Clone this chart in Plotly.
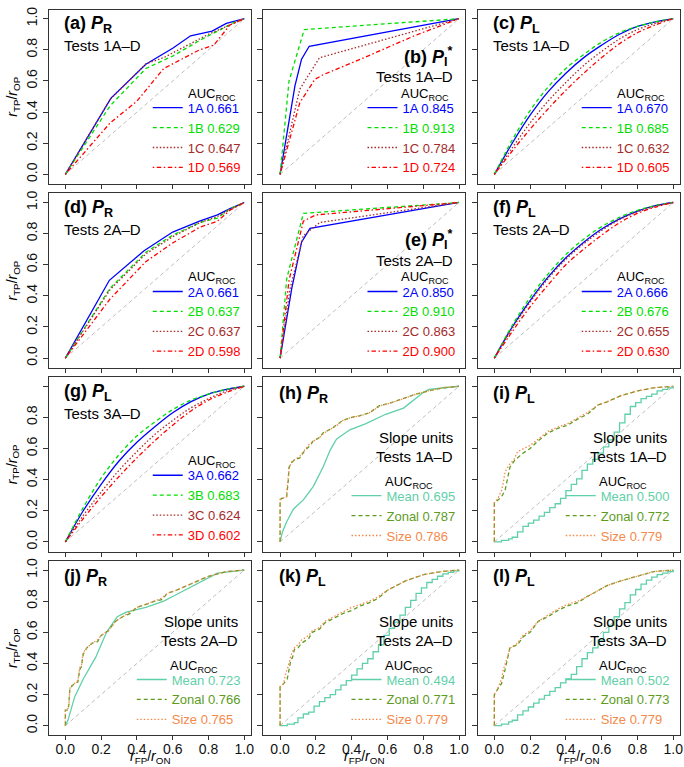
import plotly.graph_objects as go

FONT = "Liberation Sans, Arial, Helvetica, sans-serif"
W, H = 684, 767

# ---------------- colours ----------------
COL_A = "#0000FF"
COL_B = "#00E000"
COL_C = "#A52A2A"
COL_D = "#FF0000"
COL_MEAN = "#5FD0A8"
COL_ZONAL = "#5E9C1E"
COL_SIZE = "#F5894A"

# ---------------- data ----------------
DIAG = [0.0, 1.0]
GRID_X = [0.0, 0.1, 0.2, 0.3, 0.4, 0.5, 0.6, 0.7, 0.8, 0.9, 1.0]
MEAN_X = [0, 0.04, 0.08, 0.10, 0.13, 0.16, 0.19, 0.22, 0.25, 0.28, 0.31, 0.34, 0.37, 0.40,
          0.43, 0.46, 0.49, 0.52, 0.55, 0.58, 0.61, 0.64, 0.67, 0.70, 0.73, 0.76, 0.79,
          0.82, 0.85, 0.88, 0.91, 0.94, 0.97, 1.0]

# (a) P_R, Tests 1A-D
a_1A_x = [0, 0.255, 0.45, 0.60, 0.70, 0.82, 0.90, 1.0]
a_1A_y = [0, 0.49, 0.707, 0.81, 0.89, 0.92, 0.97, 1.0]
a_1B_x = [0, 0.25, 0.45, 0.60, 0.75, 0.85, 0.95, 1.0]
a_1B_y = [0, 0.44, 0.68, 0.76, 0.86, 0.92, 0.98, 1.0]
a_1C_x = [0, 0.25, 0.45, 0.55, 0.65, 0.80, 0.90, 1.0]
a_1C_y = [0, 0.48, 0.71, 0.75, 0.81, 0.90, 0.95, 1.0]
a_1D_x = [0, 0.25, 0.40, 0.55, 0.75, 0.83, 0.92, 1.0]
a_1D_y = [0, 0.33, 0.47, 0.68, 0.80, 0.83, 0.96, 1.0]
AUC_a = [0.661, 0.629, 0.647, 0.569]

# (b) P_I*, Tests 1A-D
b_1A_x = [0, 0.083, 0.12, 0.163, 1.0]
b_1A_y = [0, 0.568, 0.74, 0.823, 1.0]
b_1B_x = [0, 0.05, 0.135, 1.0]
b_1B_y = [0, 0.60, 0.93, 1.0]
b_1C_x = [0, 0.11, 0.22, 1.0]
b_1C_y = [0, 0.547, 0.749, 1.0]
b_1D_x = [0, 0.11, 0.194, 0.24, 0.45, 0.75, 1.0]
b_1D_y = [0, 0.46, 0.61, 0.64, 0.74, 0.89, 1.0]
AUC_b = [0.845, 0.913, 0.784, 0.724]

# (c) P_L, Tests 1A-D
c_1A_y = [0, 0.20, 0.38, 0.53, 0.65, 0.75, 0.83, 0.90, 0.95, 0.98, 1.0]
c_1B_y = [0, 0.22, 0.41, 0.56, 0.68, 0.77, 0.85, 0.91, 0.95, 0.98, 1.0]
c_1C_y = [0, 0.17, 0.33, 0.47, 0.59, 0.70, 0.79, 0.87, 0.93, 0.97, 1.0]
c_1D_y = [0, 0.15, 0.29, 0.42, 0.54, 0.65, 0.75, 0.84, 0.91, 0.96, 1.0]
AUC_c = [0.670, 0.685, 0.632, 0.605]

# (d) P_R, Tests 2A-D
d_2A_x = [0, 0.246, 0.44, 0.60, 0.75, 0.85, 0.92, 1.0]
d_2A_y = [0, 0.50, 0.69, 0.81, 0.88, 0.92, 0.96, 1.0]
d_2B_x = [0, 0.25, 0.45, 0.60, 0.75, 0.85, 0.92, 1.0]
d_2B_y = [0, 0.45, 0.68, 0.79, 0.87, 0.90, 0.96, 1.0]
d_2C_x = [0, 0.25, 0.45, 0.60, 0.75, 0.85, 0.93, 1.0]
d_2C_y = [0, 0.44, 0.67, 0.78, 0.87, 0.91, 0.96, 1.0]
d_2D_x = [0, 0.25, 0.45, 0.60, 0.75, 0.85, 0.92, 1.0]
d_2D_y = [0, 0.38, 0.62, 0.74, 0.84, 0.88, 0.95, 1.0]
AUC_d = [0.661, 0.637, 0.637, 0.598]

# (e) P_I*, Tests 2A-D
e_2A_x = [0, 0.065, 0.12, 0.167, 1.0]
e_2A_y = [0, 0.447, 0.745, 0.834, 1.0]
e_2B_x = [0, 0.037, 0.13, 1.0]
e_2B_y = [0, 0.51, 0.93, 1.0]
e_2C_x = [0, 0.056, 0.13, 0.222, 1.0]
e_2C_y = [0, 0.447, 0.787, 0.872, 1.0]
e_2D_x = [0, 0.05, 0.13, 0.20, 1.0]
e_2D_y = [0, 0.50, 0.88, 0.92, 1.0]
AUC_e = [0.850, 0.910, 0.863, 0.900]

# (f) P_L, Tests 2A-D
f_2A_y = [0, 0.20, 0.37, 0.52, 0.645, 0.745, 0.83, 0.895, 0.945, 0.98, 1.0]
f_2B_y = [0, 0.21, 0.39, 0.54, 0.665, 0.765, 0.845, 0.905, 0.95, 0.98, 1.0]
f_2C_y = [0, 0.19, 0.36, 0.51, 0.635, 0.735, 0.82, 0.89, 0.94, 0.975, 1.0]
f_2D_y = [0, 0.17, 0.33, 0.47, 0.60, 0.70, 0.79, 0.87, 0.93, 0.97, 1.0]
AUC_f = [0.666, 0.676, 0.655, 0.630]

# (g) P_L, Tests 3A-D
g_3A_y = [0, 0.20, 0.37, 0.52, 0.64, 0.74, 0.83, 0.90, 0.95, 0.98, 1.0]
g_3B_y = [0, 0.22, 0.41, 0.56, 0.68, 0.77, 0.85, 0.91, 0.95, 0.98, 1.0]
g_3C_y = [0, 0.17, 0.32, 0.46, 0.58, 0.69, 0.78, 0.86, 0.92, 0.97, 1.0]
g_3D_y = [0, 0.15, 0.29, 0.42, 0.54, 0.65, 0.75, 0.84, 0.91, 0.96, 1.0]
AUC_g = [0.662, 0.683, 0.624, 0.602]

# (h) P_R, slope units, Tests 1A-D
h_mean_x = [0, 0.012, 0.037, 0.074, 0.13, 0.185, 0.24, 0.28, 0.315, 0.39, 0.48, 0.59, 0.69, 0.80, 0.83, 1.0]
h_mean_y = [0, 0.06, 0.13, 0.21, 0.27, 0.355, 0.48, 0.59, 0.66, 0.72, 0.76, 0.82, 0.86, 0.96, 0.98, 1.0]
h_zonal_x = [0, 0, 0.01, 0.037, 0.046, 0.05, 0.065, 0.083, 0.11, 0.14, 0.17, 0.185, 0.22, 0.24,
             0.29, 0.315, 0.35, 0.40, 0.44, 0.50, 0.555, 0.61, 0.69, 0.76, 0.83, 0.91, 1.0]
h_zonal_y = [0, 0.27, 0.28, 0.29, 0.40, 0.48, 0.51, 0.53, 0.54, 0.59, 0.62, 0.65, 0.67, 0.70,
             0.73, 0.75, 0.78, 0.80, 0.81, 0.83, 0.875, 0.89, 0.92, 0.95, 0.97, 0.99, 1.0]
h_size_x = [0, 0, 0.012, 0.035, 0.045, 0.052, 0.068, 0.085, 0.11, 0.14, 0.165, 0.19, 0.22, 0.245,
            0.29, 0.32, 0.35, 0.40, 0.45, 0.50, 0.56, 0.61, 0.69, 0.76, 0.83, 0.91, 1.0]
h_size_y = [0, 0.27, 0.28, 0.29, 0.41, 0.48, 0.52, 0.53, 0.55, 0.59, 0.63, 0.65, 0.67, 0.70,
            0.73, 0.75, 0.78, 0.80, 0.81, 0.83, 0.875, 0.89, 0.92, 0.95, 0.97, 0.99, 1.0]
AUC_h = [0.695, 0.787, 0.786]

# (i) P_L, slope units, Tests 1A-D
i_mean_y = [0, 0.01, 0.02, 0.03, 0.065, 0.10, 0.12, 0.14, 0.165, 0.19, 0.22, 0.245, 0.28, 0.33,
            0.37, 0.405, 0.46, 0.50, 0.53, 0.57, 0.61, 0.655, 0.705, 0.765, 0.82, 0.87, 0.895,
            0.92, 0.935, 0.95, 0.97, 0.98, 0.99, 1.0]
i_zonal_x = [0, 0, 0.022, 0.04, 0.06, 0.078, 0.087, 0.115, 0.16, 0.20, 0.245, 0.30, 0.355, 0.41,
             0.467, 0.52, 0.58, 0.63, 0.707, 0.80, 0.89, 1.0]
i_zonal_y = [0, 0.25, 0.27, 0.29, 0.33, 0.42, 0.48, 0.525, 0.57, 0.60, 0.65, 0.70, 0.73, 0.75,
             0.79, 0.82, 0.88, 0.90, 0.94, 0.97, 0.99, 1.0]
i_size_x = [0, 0, 0.02, 0.04, 0.05, 0.06, 0.08, 0.11, 0.13, 0.20, 0.245, 0.30, 0.36, 0.41,
            0.47, 0.52, 0.58, 0.63, 0.71, 0.80, 0.89, 1.0]
i_size_y = [0, 0.25, 0.28, 0.33, 0.38, 0.45, 0.49, 0.53, 0.58, 0.62, 0.66, 0.71, 0.74, 0.76,
            0.80, 0.83, 0.88, 0.90, 0.94, 0.97, 0.99, 1.0]
AUC_i = [0.500, 0.772, 0.779]

# (j) P_R, slope units, Tests 2A-D
j_mean_x = [0, 0.015, 0.052, 0.10, 0.17, 0.20, 0.23, 0.29, 0.34, 0.45, 0.55, 0.60, 0.70, 0.80, 0.85, 1.0]
j_mean_y = [0, 0.036, 0.185, 0.30, 0.44, 0.52, 0.60, 0.70, 0.73, 0.76, 0.80, 0.83, 0.89, 0.95, 0.98, 1.0]
j_zonal_x = [0, 0, 0.015, 0.02, 0.025, 0.05, 0.07, 0.08, 0.09, 0.10, 0.12, 0.15, 0.18, 0.20, 0.24,
             0.26, 0.28, 0.32, 0.36, 0.40, 0.45, 0.50, 0.54, 0.57, 0.62, 0.70, 0.80, 0.90, 1.0]
j_zonal_y = [0, 0.10, 0.10, 0.14, 0.24, 0.27, 0.28, 0.36, 0.38, 0.46, 0.50, 0.53, 0.54, 0.58, 0.61,
             0.64, 0.67, 0.70, 0.72, 0.76, 0.78, 0.80, 0.81, 0.85, 0.87, 0.91, 0.96, 0.99, 1.0]
j_size_x = [0, 0, 0.015, 0.02, 0.027, 0.05, 0.07, 0.08, 0.09, 0.10, 0.12, 0.15, 0.18, 0.20, 0.24,
            0.26, 0.28, 0.32, 0.36, 0.40, 0.45, 0.50, 0.54, 0.57, 0.62, 0.70, 0.80, 0.90, 1.0]
j_size_y = [0, 0.10, 0.11, 0.15, 0.25, 0.27, 0.29, 0.37, 0.39, 0.47, 0.50, 0.53, 0.55, 0.58, 0.61,
            0.64, 0.67, 0.70, 0.73, 0.76, 0.78, 0.80, 0.82, 0.85, 0.87, 0.91, 0.96, 0.99, 1.0]
AUC_j = [0.723, 0.766, 0.765]

# (k) P_L, slope units, Tests 2A-D
k_mean_y = [0, 0.01, 0.02, 0.05, 0.075, 0.087, 0.125, 0.155, 0.18, 0.20, 0.23, 0.26, 0.29, 0.325,
            0.365, 0.40, 0.43, 0.475, 0.52, 0.58, 0.625, 0.665, 0.71, 0.76, 0.805, 0.85, 0.885,
            0.92, 0.94, 0.96, 0.975, 0.985, 0.995, 1.0]
k_zonal_x = [0, 0, 0.02, 0.04, 0.05, 0.06, 0.07, 0.08, 0.10, 0.12, 0.16, 0.18, 0.22, 0.25, 0.30,
             0.35, 0.40, 0.45, 0.50, 0.55, 0.60, 0.65, 0.70, 0.80, 0.90, 1.0]
k_zonal_y = [0, 0.25, 0.27, 0.30, 0.36, 0.42, 0.44, 0.49, 0.50, 0.53, 0.56, 0.60, 0.62, 0.66, 0.69,
             0.72, 0.74, 0.77, 0.79, 0.82, 0.87, 0.90, 0.93, 0.97, 0.99, 1.0]
k_size_x = [0, 0, 0.02, 0.03, 0.05, 0.06, 0.08, 0.10, 0.12, 0.16, 0.18, 0.22, 0.25, 0.30, 0.35,
            0.40, 0.45, 0.50, 0.55, 0.60, 0.65, 0.70, 0.80, 0.90, 1.0]
k_size_y = [0, 0.25, 0.27, 0.33, 0.40, 0.45, 0.50, 0.52, 0.55, 0.58, 0.61, 0.63, 0.67, 0.70, 0.73,
            0.76, 0.78, 0.80, 0.83, 0.87, 0.90, 0.93, 0.97, 0.99, 1.0]
AUC_k = [0.494, 0.771, 0.779]

# (l) P_L, slope units, Tests 3A-D
l_mean_y = [0, 0.01, 0.025, 0.035, 0.07, 0.095, 0.12, 0.145, 0.17, 0.195, 0.22, 0.245, 0.275, 0.30,
            0.33, 0.38, 0.43, 0.47, 0.50, 0.55, 0.60, 0.645, 0.70, 0.75, 0.79, 0.84, 0.875, 0.91,
            0.935, 0.955, 0.97, 0.98, 0.99, 1.0]
l_zonal_x = [0, 0, 0.022, 0.04, 0.06, 0.087, 0.13, 0.16, 0.20, 0.245, 0.30, 0.355, 0.41, 0.467,
             0.52, 0.58, 0.63, 0.707, 0.80, 0.89, 1.0]
l_zonal_y = [0, 0.20, 0.24, 0.27, 0.36, 0.50, 0.52, 0.57, 0.60, 0.67, 0.70, 0.74, 0.77, 0.79,
             0.83, 0.87, 0.90, 0.93, 0.96, 0.99, 1.0]
l_size_x = [0, 0, 0.02, 0.04, 0.05, 0.07, 0.09, 0.13, 0.16, 0.20, 0.245, 0.30, 0.355, 0.41, 0.467,
            0.52, 0.58, 0.63, 0.707, 0.80, 0.89, 1.0]
l_size_y = [0, 0.20, 0.24, 0.30, 0.36, 0.43, 0.50, 0.53, 0.58, 0.61, 0.67, 0.71, 0.75, 0.78, 0.80,
            0.83, 0.87, 0.90, 0.93, 0.96, 0.99, 1.0]
AUC_l = [0.502, 0.773, 0.779]

TICK_VALS = [0.0, 0.2, 0.4, 0.6, 0.8, 1.0]
TICK_TEXT = ["0.0", "0.2", "0.4", "0.6", "0.8", "1.0"]
TICK_TEXT_NO1 = ["0.0", "0.2", "0.4", "0.6", "0.8", " "]

# ---------------- panel definitions ----------------
DASH = {"solid": "solid", "dash": "4px,3px", "dot": "1.5px,2px", "dashdot": "1.5px,2.5px,4.5px,2.5px"}
SOL, DSH, DOT, DDT = "solid", "dash", "dot", "dashdot"
PR = "<i>P</i><sub>R</sub>"
PL = "<i>P</i><sub>L</sub>"
PI = "<i>P</i><sub>I</sub><sup>*</sup>"


def four(lbls, xs, ys, aucs, shape="linear"):
    cols = [COL_A, COL_B, COL_C, COL_D]
    dashes = [SOL, DSH, DOT, DDT]
    return [(lbls[k], xs[k], ys[k], cols[k], dashes[k], aucs[k], shape) for k in range(4)]


def three(xs, ys, aucs, mean_shape="linear"):
    return [("Mean", xs[0], ys[0], COL_MEAN, SOL, aucs[0], mean_shape),
            ("Zonal", xs[1], ys[1], COL_ZONAL, DSH, aucs[1], "linear"),
            ("Size", xs[2], ys[2], COL_SIZE, DOT, aucs[2], "linear")]


L1 = ["1A", "1B", "1C", "1D"]
L2 = ["2A", "2B", "2C", "2D"]
L3 = ["3A", "3B", "3C", "3D"]
panels = [
    dict(tag="(a)", P=PR, tests="Tests 1A–D", kind="tl",
         series=four(L1, [a_1A_x, a_1B_x, a_1C_x, a_1D_x], [a_1A_y, a_1B_y, a_1C_y, a_1D_y], AUC_a)),
    dict(tag="(b)", P=PI, tests="Tests 1A–D", kind="r",
         series=four(L1, [b_1A_x, b_1B_x, b_1C_x, b_1D_x], [b_1A_y, b_1B_y, b_1C_y, b_1D_y], AUC_b)),
    dict(tag="(c)", P=PL, tests="Tests 1A–D", kind="tl",
         series=four(L1, [GRID_X] * 4, [c_1A_y, c_1B_y, c_1C_y, c_1D_y], AUC_c, "spline")),
    dict(tag="(d)", P=PR, tests="Tests 2A–D", kind="tl",
         series=four(L2, [d_2A_x, d_2B_x, d_2C_x, d_2D_x], [d_2A_y, d_2B_y, d_2C_y, d_2D_y], AUC_d)),
    dict(tag="(e)", P=PI, tests="Tests 2A–D", kind="r",
         series=four(L2, [e_2A_x, e_2B_x, e_2C_x, e_2D_x], [e_2A_y, e_2B_y, e_2C_y, e_2D_y], AUC_e)),
    dict(tag="(f)", P=PL, tests="Tests 2A–D", kind="tl",
         series=four(L2, [GRID_X] * 4, [f_2A_y, f_2B_y, f_2C_y, f_2D_y], AUC_f, "spline")),
    dict(tag="(g)", P=PL, tests="Tests 3A–D", kind="tl",
         series=four(L3, [GRID_X] * 4, [g_3A_y, g_3B_y, g_3C_y, g_3D_y], AUC_g, "spline")),
    dict(tag="(h)", P=PR, tests="Tests 1A–D", kind="su",
         series=three([h_mean_x, h_zonal_x, h_size_x], [h_mean_y, h_zonal_y, h_size_y], AUC_h)),
    dict(tag="(i)", P=PL, tests="Tests 1A–D", kind="su",
         series=three([MEAN_X, i_zonal_x, i_size_x], [i_mean_y, i_zonal_y, i_size_y], AUC_i, "hv")),
    dict(tag="(j)", P=PR, tests="Tests 2A–D", kind="su",
         series=three([j_mean_x, j_zonal_x, j_size_x], [j_mean_y, j_zonal_y, j_size_y], AUC_j)),
    dict(tag="(k)", P=PL, tests="Tests 2A–D", kind="su",
         series=three([MEAN_X, k_zonal_x, k_size_x], [k_mean_y, k_zonal_y, k_size_y], AUC_k, "hv")),
    dict(tag="(l)", P=PL, tests="Tests 3A–D", kind="su",
         series=three([MEAN_X, l_zonal_x, l_size_x], [l_mean_y, l_zonal_y, l_size_y], AUC_l, "hv")),
]

# ---------------- layout geometry (pixels) ----------------
X0S = [49, 265, 480.5]
ROW_TOPS = [6.7 + 184.5 * r for r in range(4)]
FW, FH = 203, 175
XR = [-0.093, 1.035]
YR = [-0.062, 1.058]
UX = FW / (XR[1] - XR[0])
UY = FH / (YR[1] - YR[0])
AXC = "#333333"

fig = go.Figure()
ann = []
layout_upd = {}


def txt(x, y, xn, yn, text, size, anchor="left"):
    return dict(x=x, y=y, xref=xn, yref=yn, text=text, showarrow=False,
                xanchor=anchor, yanchor="middle", font=dict(size=size, family=FONT, color="#000"))


for i, p in enumerate(panels):
    r, c = divmod(i, 3)
    n = i + 1
    sfx = "" if n == 1 else str(n)
    xn, yn = "x" + sfx, "y" + sfx
    x0 = X0S[c]
    top = ROW_TOPS[r]
    layout_upd["xaxis" + sfx] = dict(
        domain=[x0 / W, (x0 + FW) / W], range=XR, anchor=yn, showgrid=False, zeroline=False,
        showline=True, mirror=True, linecolor=AXC, linewidth=1,
        ticks="outside", ticklen=4, tickwidth=1, tickcolor=AXC, ticklabelstandoff=-3,
        tickvals=TICK_VALS, ticktext=TICK_TEXT, showticklabels=(r == 3),
        tickfont=dict(size=14, color="#111", family=FONT))
    layout_upd["yaxis" + sfx] = dict(
        domain=[1 - (top + FH) / H, 1 - top / H], range=YR, anchor=xn, showgrid=False, zeroline=False,
        showline=True, mirror=True, linecolor=AXC, linewidth=1,
        ticks="outside", ticklen=5, tickwidth=1, tickcolor=AXC,
        tickvals=TICK_VALS, ticktext=(TICK_TEXT_NO1 if r == 2 else TICK_TEXT),
        showticklabels=(c == 0), tickangle=-90,
        tickfont=dict(size=14, color="#111", family=FONT))

    fig.add_trace(go.Scatter(x=DIAG, y=DIAG, mode="lines", xaxis=xn, yaxis=yn,
                             line=dict(color="#BEBEBE", width=1, dash="4px,3px"),
                             showlegend=False, hoverinfo="skip"))
    lg = "legend" + sfx
    for (lab, xs, ys, col, d, auc, shape) in p["series"]:
        fig.add_trace(go.Scatter(
            x=xs, y=ys, mode="lines", xaxis=xn, yaxis=yn, legend=lg,
            line=dict(color=col, width=1.3, dash=DASH[d], shape=shape),
            name=f'<span style="color:{col}">{lab} {auc:.3f}</span>'))

    zx = x0 + (0 - XR[0]) * UX
    zy = top + (YR[1] - 0) * UY
    nser = len(p["series"])
    rows_mid = 0.235 if nser == 4 else 0.168      # data-y of the middle of the legend rows
    layout_upd[lg] = dict(
        x=(zx + 0.975 * UX + 6) / W, y=1 - (zy - rows_mid * UY) / H,
        xanchor="right", yanchor="middle",
        bgcolor="rgba(0,0,0,0)", borderwidth=0, tracegroupgap=0,
        font=dict(size=13, family=FONT, color="#000"))

    auc_title = "AUC<sub>ROC</sub>"
    head = f"<b>{p['tag']} {p['P']}</b>"
    if p["kind"] == "tl":
        ann.append(txt(-0.02, 0.96, xn, yn, head, 18))
        ann.append(txt(-0.02, 0.825, xn, yn, p["tests"], 15))
        ann.append(txt(0.675, 0.515, xn, yn, auc_title, 13))
    elif p["kind"] == "r":
        ann.append(txt(0.98, 0.76, xn, yn, head, 18, "right"))
        ann.append(txt(0.98, 0.63, xn, yn, p["tests"], 15, "right"))
        ann.append(txt(0.665, 0.515, xn, yn, auc_title, 13))
    else:
        ann.append(txt(-0.02, 0.95, xn, yn, head, 18))
        ann.append(txt(0.975, 0.67, xn, yn, "Slope units", 15, "right"))
        ann.append(txt(0.975, 0.548, xn, yn, p["tests"], 15, "right"))
        ann.append(txt(0.575, 0.38, xn, yn, auc_title, 13))

# axis titles
for r in range(4):
    ann.append(dict(x=13 / W, y=1 - (ROW_TOPS[r] + FH / 2) / H, xref="paper", yref="paper",
                    text="<i>r</i><sub>TP</sub>/<i>r</i><sub>OP</sub>", textangle=-90, showarrow=False,
                    xanchor="center", yanchor="middle", font=dict(size=14, family=FONT, color="#000")))
for c in range(3):
    ann.append(dict(x=(X0S[c] + FW / 2) / W, y=0, xref="paper", yref="paper",
                    text="<i>r</i><sub>FP</sub>/<i>r</i><sub>ON</sub>", showarrow=False, borderpad=0,
                    xanchor="center", yanchor="bottom", font=dict(size=14, family=FONT, color="#000")))

fig.update_layout(**layout_upd)
fig.update_layout(width=W, height=H, margin=dict(l=0, r=0, t=0, b=0),
                  paper_bgcolor="white", plot_bgcolor="white", showlegend=True,
                  font=dict(family=FONT, color="#000"), annotations=ann)
fig.write_html("out.html")
